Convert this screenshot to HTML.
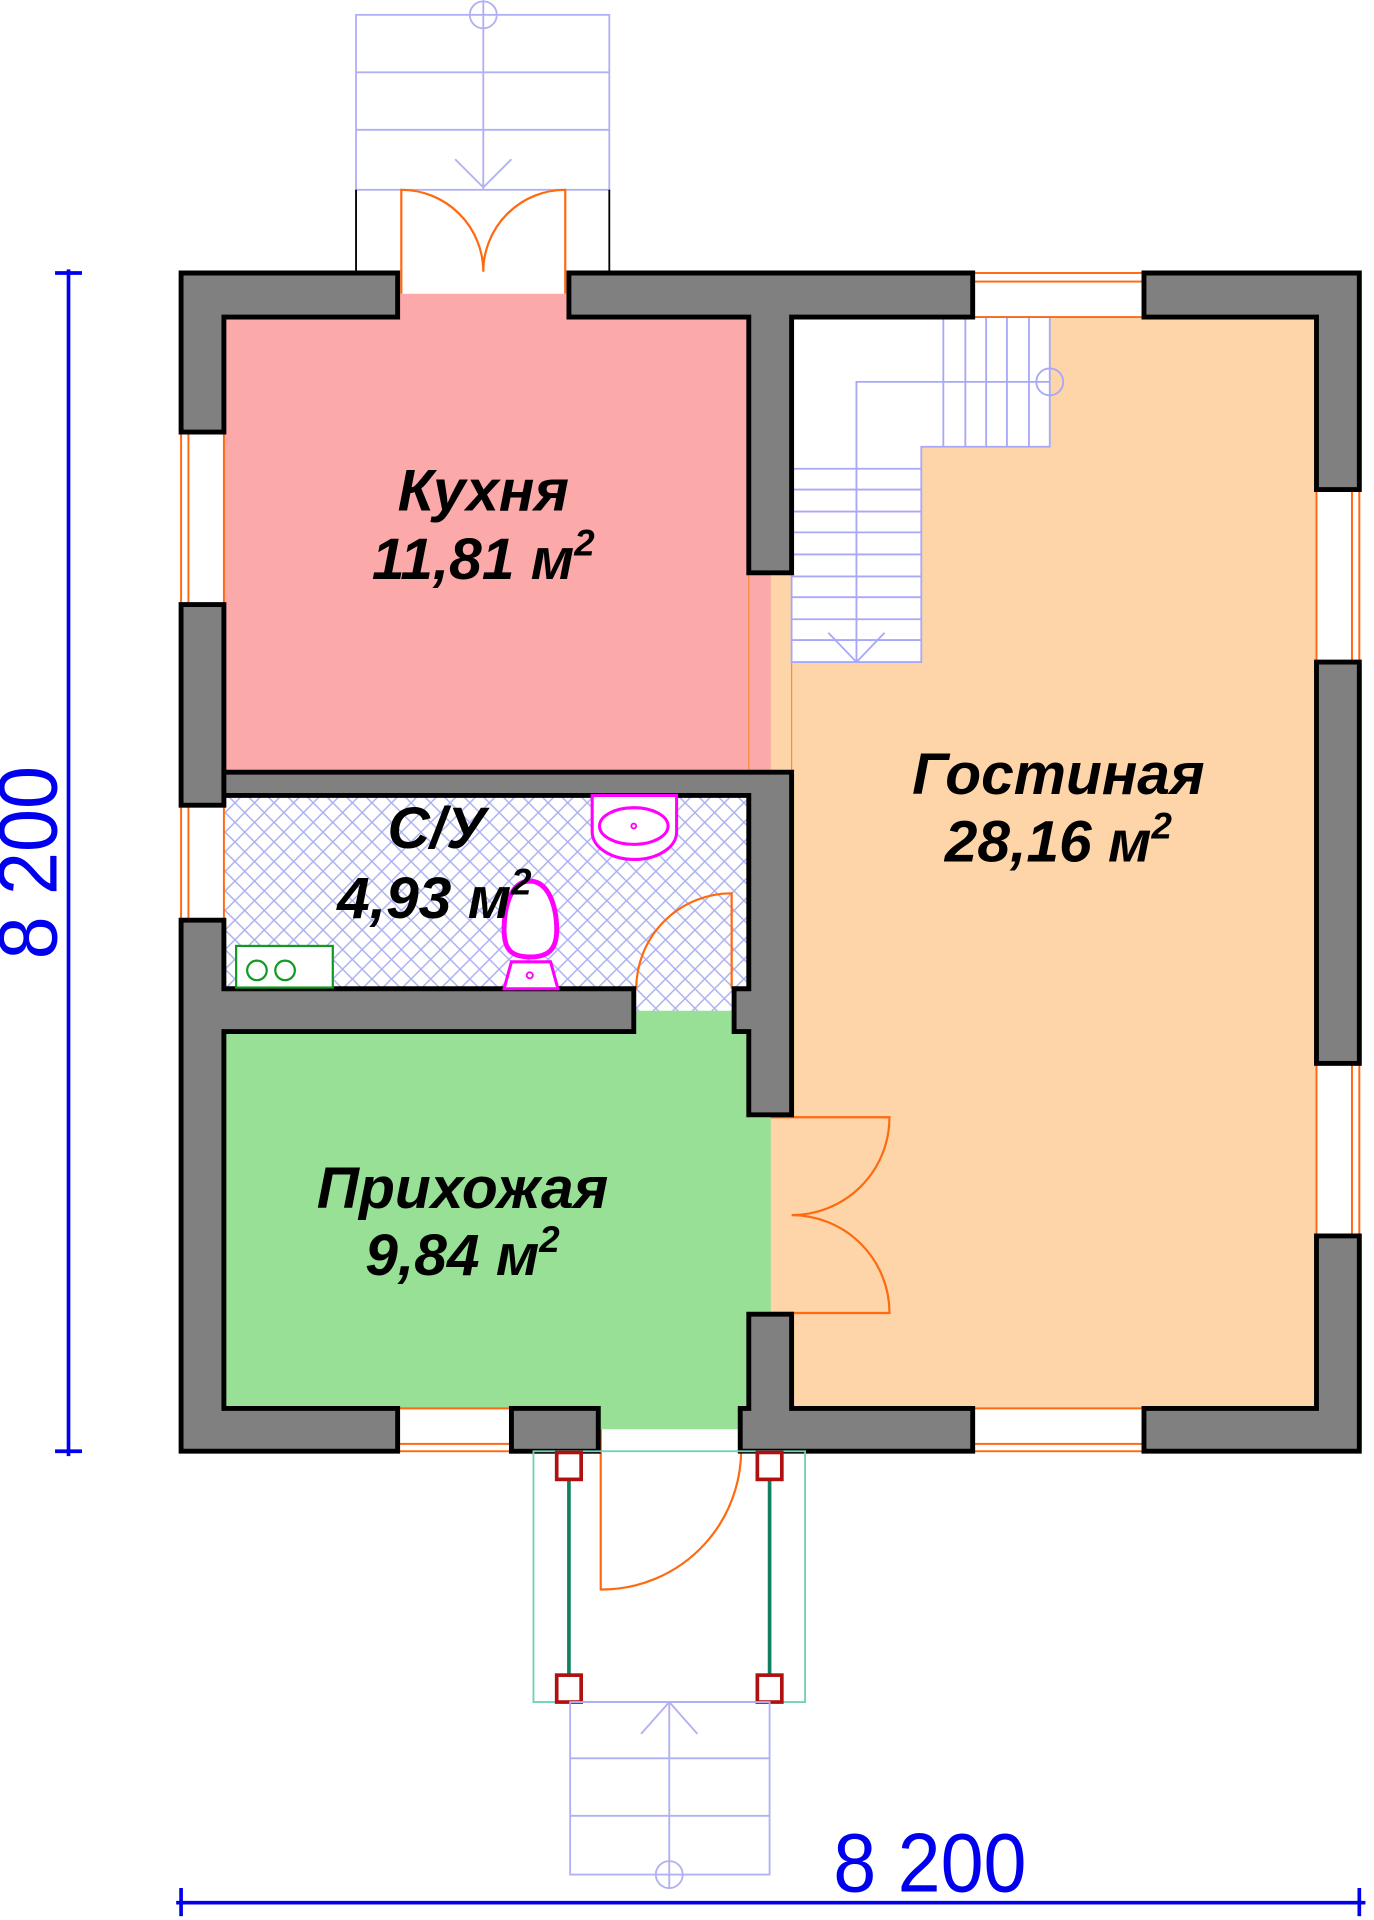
<!DOCTYPE html>
<html><head><meta charset="utf-8"><style>html,body{margin:0;padding:0;background:#fff}svg{display:block}</style></head><body>
<svg width="1374" height="1920" viewBox="0 0 1123 1569" xmlns="http://www.w3.org/2000/svg">
<defs>
<pattern id="h" width="16" height="16" patternUnits="userSpaceOnUse">
<rect width="16" height="16" fill="#fff"/>
<path d="M0,0L16,16M16,0L0,16" stroke="#aab0f0" stroke-width="1.2"/>
</pattern>
</defs>
<rect x="183" y="240" width="430" height="392" fill="#fca9a9"/>
<rect x="612" y="259" width="464" height="892" fill="#fed5a8"/>
<rect x="612" y="468" width="18" height="164" fill="#fca9a9"/>
<rect x="183" y="650" width="430" height="158" fill="url(#h)"/>
<rect x="518" y="808" width="82" height="20" fill="url(#h)"/>
<rect x="183" y="826" width="447" height="325" fill="#98e095"/>
<rect x="489" y="1140" width="116" height="28" fill="#98e095"/>
<line x1="612" y1="468" x2="612" y2="632" stroke="#ff8a3a" stroke-width="1"/>
<line x1="647" y1="468" x2="647" y2="632" stroke="#ff8a3a" stroke-width="1"/>
<g stroke="#a8a8f8" stroke-width="1.5" fill="#fff">
<path d="M647,259H858V365H753V541H647Z"/>
<g fill="none">
<path d="M771,259V365M789,259V365M806,259V365M823,259V365M841,259V365"/>
<path d="M647,383H753M647,400H753M647,418H753M647,435H753M647,453H753M647,471H753M647,488H753M647,506H753M647,523H753"/>
<path d="M858,312H700V541M677,517L700,541L723,517"/>
<circle cx="858" cy="312" r="11"/>
</g></g>
<g stroke="#b0b0f4" stroke-width="1.5" fill="none">
<rect x="291" y="12" width="207" height="143"/>
<path d="M291,59H498M291,106H498M395,0V155M372,130L395,153L418,130"/>
<circle cx="395" cy="12" r="11"/>
</g>
<path d="M291,155V223M498,155V223" stroke="#000" stroke-width="1.5"/>
<g stroke="#ff6a10" stroke-width="1.8" fill="none">
<path d="M328,240V155A67,67 0 0 1 395,222A67,67 0 0 1 462,155V240"/>
<path d="M520,808A78,78 0 0 1 598,730V808"/>
<path d="M630,913H727A80,80 0 0 1 647,993A80,80 0 0 1 727,1073H630"/>
<path d="M491,1168V1299A114,114 0 0 0 605,1172"/>
</g>
<g stroke="#ff6a10" stroke-width="1.6" fill="#fff">
<rect x="795" y="223" width="140" height="7"/><line x1="795" y1="259" x2="935" y2="259"/>
<rect x="325" y="1180" width="93" height="6"/><line x1="325" y1="1151" x2="418" y2="1151"/>
<rect x="795" y="1180" width="140" height="6"/><line x1="795" y1="1151" x2="935" y2="1151"/>
<rect x="148" y="353" width="6" height="141"/><line x1="183" y1="353" x2="183" y2="494"/>
<rect x="148" y="658" width="6" height="94"/><line x1="183" y1="658" x2="183" y2="752"/>
<rect x="1105" y="400" width="6" height="141"/><line x1="1076" y1="400" x2="1076" y2="541"/>
<rect x="1105" y="869" width="6" height="141"/><line x1="1076" y1="869" x2="1076" y2="1010"/>
</g>
<g fill="#808080" stroke="#000" stroke-width="4" stroke-linejoin="miter">
<path d="M148,223H325V259H183V353H148Z"/>
<path d="M465,223H795V259H647V468H612V259H465Z"/>
<path d="M935,223H1111V400H1076V259H935Z"/>
<rect x="148" y="494" width="35" height="164"/>
<rect x="1076" y="541" width="35" height="328"/>
<path d="M148,752H183V808H518V843H183V1151H325V1186H148Z"/>
<path d="M183,631H647V911H612V843H600V808H612V650H183Z"/>
<rect x="418" y="1151" width="71" height="35"/>
<path d="M612,1074H647V1151H795V1186H605V1151H612Z"/>
<path d="M1076,1010H1111V1186H935V1151H1076Z"/>
</g>
<g stroke="#ff00ff" stroke-width="2.5" fill="#fff">
<path d="M484,650H553V680A34,22 0 0 1 484,680Z"/>
<ellipse cx="518" cy="675" rx="28" ry="15"/>
<circle cx="518" cy="675" r="2" stroke-width="1.5"/>
<path d="M418,786L412,808H456L450,786Z"/>
<path d="M433,720C448,720 455,740 455,760C455,776 448,782 433,782C418,782 412,776 412,760C412,740 418,720 433,720Z" stroke-width="4"/>
<circle cx="433" cy="797" r="2.5" stroke-width="1.5"/>
</g>
<g stroke="#109a20" stroke-width="1.8" fill="#fff">
<rect x="193" y="773" width="79" height="34"/>
<circle cx="210" cy="793" r="8"/><circle cx="233" cy="793" r="8"/>
</g>
<rect x="436" y="1186" width="222" height="205" fill="none" stroke="#70d0b8" stroke-width="1.5"/>
<g stroke="#108060" stroke-width="3"><line x1="465" y1="1208" x2="465" y2="1369"/><line x1="629" y1="1208" x2="629" y2="1369"/></g>
<g fill="#fff" stroke="#b01010" stroke-width="3">
<rect x="455" y="1187" width="20" height="22"/><rect x="619" y="1187" width="20" height="22"/>
<rect x="455" y="1369" width="20" height="22"/><rect x="619" y="1369" width="20" height="22"/>
</g>
<g stroke="#b0b0f4" stroke-width="1.5" fill="none">
<rect x="466" y="1391" width="163" height="141"/>
<path d="M466,1437H629M466,1484H629M547,1391V1543M524,1417L547,1391L570,1417"/>
<circle cx="547" cy="1532" r="11"/>
</g>
<g stroke="#0000ee" stroke-width="3">
<line x1="56" y1="220" x2="56" y2="1190"/>
<line x1="45" y1="223" x2="67" y2="223"/><line x1="45" y1="1186" x2="67" y2="1186"/>
<line x1="144" y1="1555" x2="1116" y2="1555"/>
<line x1="148" y1="1543" x2="148" y2="1566"/><line x1="1111" y1="1543" x2="1111" y2="1566"/>
</g>
<g font-family="Liberation Sans, sans-serif" fill="#0000ee" font-size="68">
<text x="760" y="1546" text-anchor="middle" textLength="158" lengthAdjust="spacingAndGlyphs">8 200</text>
<text transform="translate(46,705) rotate(-90)" text-anchor="middle" textLength="158" lengthAdjust="spacingAndGlyphs">8 200</text>
</g>
<g font-family="Liberation Sans, sans-serif" font-weight="bold" font-style="italic" font-size="48" text-anchor="middle" fill="#000">
<text x="395" y="417">Кухня</text>
<text x="395" y="473">11,81 м<tspan font-size="30" dy="-19">2</tspan></text>
<text x="865" y="649">Гостиная</text>
<text x="865" y="704">28,16 м<tspan font-size="30" dy="-19">2</tspan></text>
<text x="357" y="693">С/У</text>
<text x="355" y="750">4,93 м<tspan font-size="30" dy="-19">2</tspan></text>
<text x="378" y="987">Прихожая</text>
<text x="378" y="1042">9,84 м<tspan font-size="30" dy="-19">2</tspan></text>
</g>
</svg>
</body></html>
